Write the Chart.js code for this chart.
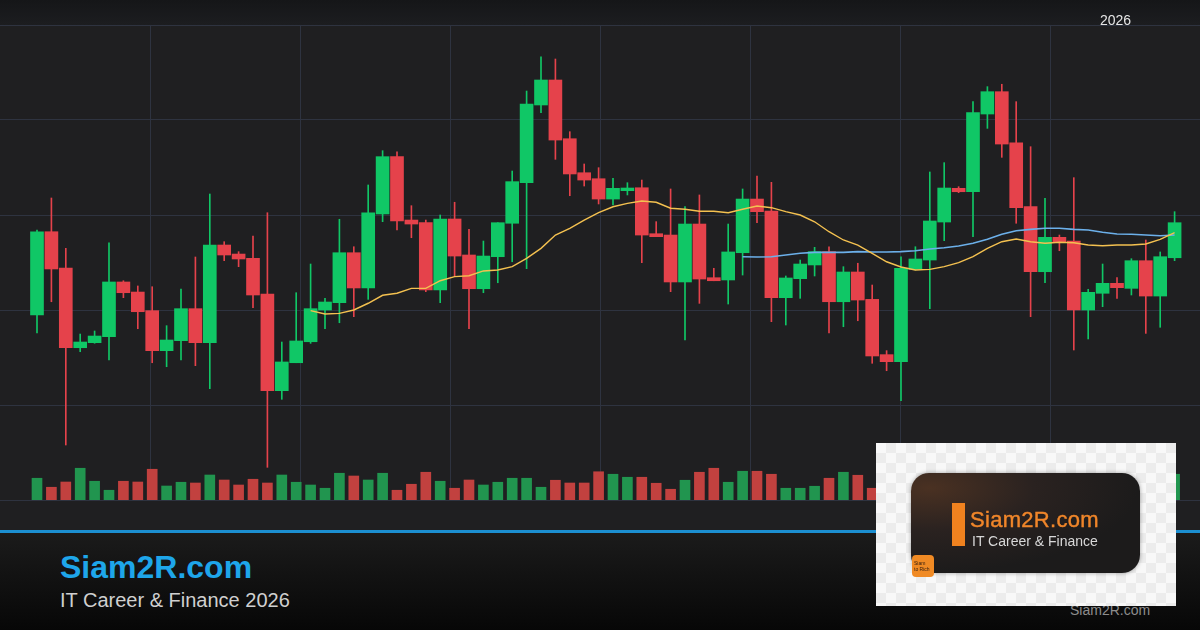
<!DOCTYPE html>
<html>
<head>
<meta charset="utf-8">
<title>Siam2R.com - IT Career & Finance 2026</title>
<script src="https://cdn.jsdelivr.net/npm/chart.js@4.4.1/dist/chart.umd.min.js"></script>
<style>
    html, body { margin: 0; padding: 0; }
    body {
        width: 1200px; height: 630px; overflow: hidden; position: relative;
        background: #1f1f21;
        font-family: Arial, "Liberation Sans", sans-serif;
    }
    #topBand { position: absolute; left: 0; top: 0; width: 1200px; height: 25px; background: linear-gradient(#151618, #1c1d20); }
    #year { position: absolute; left: 1100px; top: 13px; font-size: 14px; line-height: 14px; color: #e6e6e6; z-index: 3; }
    #chartBox { position: absolute; left: 0; top: 15px; width: 1200px; height: 495px; z-index: 1; }
    #blueLine { position: absolute; left: 0; top: 530px; width: 1200px; height: 3px; background: #1c8fd1; }
    #footer { position: absolute; left: 0; top: 533px; width: 1200px; height: 97px; background: linear-gradient(#1b1b1b, #070707); }
    #brand { position: absolute; left: 60px; top: 551px; font-size: 32px; line-height: 32px; font-weight: bold; color: #1ea6ea; }
    #sub { position: absolute; left: 60px; top: 590px; font-size: 20px; line-height: 20px; color: #d0d0d0; }
    #small { position: absolute; left: 1070px; top: 603px; font-size: 14px; line-height: 14px; color: #8d8d8d; }
    #panel {
        position: absolute; left: 876px; top: 443px; width: 300px; height: 163px; z-index: 4;
        background: repeating-conic-gradient(#ececec 0% 25%, #f8f8f8 0% 50%) 0 0 / 20px 20px;
    }
    #card {
        position: absolute; left: 35px; top: 30px; width: 229px; height: 100px; border-radius: 18px;
        background: radial-gradient(ellipse at 8% 15%, #4a3122 0%, #2a2220 35%, #1c1b1b 70%);
        box-shadow: 0 0 4px rgba(0,0,0,0.35);
    }
    #bar { position: absolute; left: 76px; top: 60px; width: 13px; height: 43px; background: #f0821f; }
    #cardTitle { position: absolute; left: 94px; top: 66px; font-size: 22px; line-height: 22px; color: #f0862a; -webkit-text-stroke: 0.4px #f0862a; letter-spacing: 0.3px; }
    #cardSub { position: absolute; left: 96px; top: 91px; font-size: 14px; line-height: 14px; color: #d8d8d8; }
    #badge {
        position: absolute; left: 36px; top: 112px; width: 22px; height: 22px; border-radius: 4px;
        background: #f08a24; color: #3a2010; font-size: 5px; line-height: 6px; padding: 5px 0 0 2px; box-sizing: border-box;
    }
</style>
</head>
<body>
<div id="topBand"></div>
<div id="year">2026</div>
<div id="chartBox"><canvas id="candleChart" width="1200" height="495"></canvas></div>
<div id="blueLine"></div>
<div id="footer"></div>
<div id="brand">Siam2R.com</div>
<div id="sub">IT Career &amp; Finance 2026</div>
<div id="small">Siam2R.com</div>
<div id="panel">
    <div id="card"></div>
    <div id="bar"></div>
    <div id="cardTitle">Siam2R.com</div>
    <div id="cardSub">IT Career &amp; Finance</div>
    <div id="badge">Siam<br>to Rich</div>
</div>

<script>
// daily OHLC
const opens = [119.47, 128.24, 124.42, 116.03, 116.56, 117.19, 122.95, 121.89, 119.93, 115.72,
    116.77, 120.14, 116.56, 126.84, 125.89, 125.44, 121.68, 111.51, 114.45, 116.66,
    120.0, 120.77, 126.03, 122.32, 130.11, 136.14, 129.47, 129.19, 122.11, 129.58,
    125.79, 122.24, 125.61, 129.13, 133.4, 141.58, 144.21, 138.03, 134.45, 133.82,
    131.68, 132.56, 132.87, 128.03, 127.89, 122.95, 129.05, 123.4, 123.16, 126.03,
    131.68, 130.42, 121.3, 123.3, 124.74, 126.14, 120.87, 124.0, 121.12, 115.3,
    114.56, 124.28, 125.26, 129.26, 132.81, 132.45, 140.63, 142.98, 137.61, 130.88,
    124.03, 127.65, 127.26, 120.0, 121.76, 122.81, 122.28, 125.19, 121.47, 125.5];
const highs = [128.4, 131.79, 126.49, 117.47, 117.79, 127.08, 123.08, 122.53, 122.45, 118.35,
    122.21, 125.58, 132.21, 127.19, 126.14, 127.79, 130.24, 116.63, 121.82, 124.84,
    121.23, 129.55, 126.66, 133.16, 136.77, 136.66, 130.98, 129.47, 130.0, 131.34,
    128.49, 127.26, 129.19, 134.63, 143.05, 146.66, 146.42, 138.77, 135.37, 134.98,
    133.86, 133.4, 133.68, 129.3, 132.74, 130.88, 132.11, 124.39, 129.05, 132.74,
    134.11, 133.44, 123.58, 125.26, 126.6, 126.66, 124.56, 124.92, 122.63, 115.72,
    125.61, 126.66, 134.53, 135.51, 132.98, 141.93, 143.51, 143.76, 141.93, 137.19,
    131.76, 127.89, 133.93, 122.18, 124.84, 123.4, 125.4, 127.37, 126.11, 130.35];
const lows = [117.6, 120.87, 105.79, 115.61, 116.5, 114.74, 121.3, 118.03, 114.45, 114.03,
    114.74, 114.14, 111.72, 125.19, 124.56, 120.24, 103.44, 110.6, 114.45, 116.49,
    118.03, 118.66, 119.3, 121.12, 129.3, 128.42, 127.61, 121.93, 120.77, 123.58,
    118.03, 121.82, 122.87, 125.08, 124.35, 140.77, 135.86, 132.03, 133.05, 131.16,
    131.05, 132.11, 124.98, 127.72, 121.93, 116.84, 120.7, 123.08, 120.63, 123.68,
    129.19, 118.77, 118.42, 121.23, 123.58, 117.6, 118.24, 118.87, 114.39, 113.61,
    110.45, 124.21, 120.14, 127.3, 132.35, 127.72, 139.12, 136.07, 129.13, 119.3,
    122.87, 126.24, 115.79, 116.95, 120.35, 121.23, 121.58, 117.54, 118.18, 125.19];
const closes = [128.24, 124.32, 116.03, 116.63, 117.26, 122.95, 121.82, 119.82, 115.72, 116.84,
    120.14, 116.56, 126.84, 125.79, 125.37, 121.58, 111.51, 114.53, 116.74, 120.14,
    120.84, 126.03, 122.32, 130.24, 136.14, 129.37, 129.05, 122.11, 129.58, 125.68,
    122.24, 125.68, 129.19, 133.51, 141.68, 144.21, 137.89, 134.32, 133.68, 131.68,
    132.81, 132.84, 127.89, 127.72, 122.95, 129.05, 123.26, 123.08, 126.11, 131.68,
    130.35, 121.3, 123.37, 124.84, 126.14, 120.87, 124.0, 121.05, 115.16, 114.56,
    124.39, 125.37, 129.37, 132.84, 132.45, 140.77, 142.98, 137.47, 130.77, 124.03,
    127.65, 127.19, 120.0, 121.86, 122.81, 122.35, 125.19, 121.47, 125.61, 129.19];
const volumes = [870, 510, 720, 1270, 750, 390, 750, 720, 1230, 560,
    710, 680, 1000, 800, 600, 830, 680, 1000, 710, 600,
    470, 1070, 960, 800, 1070, 390, 630, 1110, 750, 470,
    800, 600, 710, 870, 870, 510, 790, 680, 680, 1130,
    1030, 910, 910, 670, 430, 790, 1110, 1270, 710, 1150,
    1150, 1030, 470, 470, 550, 870, 1110, 990, 470, 620,
    1180, 540, 900, 820, 450, 1200, 760, 980, 1050, 1100,
    700, 520, 950, 610, 480, 430, 650, 820, 760, 1030];

// moving averages as drawn (yellow starts at day 19, blue at day 49)
const ma20Start = 19;
const ma20 = [119.93, 119.58, 119.65, 120.0, 120.71, 121.55, 121.76, 122.28, 122.28, 123.08,
    123.51, 123.61, 124.11, 124.21, 124.56, 125.44, 126.49, 127.89, 128.6, 129.47,
    130.26, 130.87, 131.23, 131.47, 131.34, 130.71, 130.6, 130.39, 130.39, 130.24,
    130.6, 130.95, 130.77, 130.35, 130.0, 129.29, 128.24, 127.37, 126.84, 125.97,
    125.08, 124.53, 124.21, 124.28, 124.56, 124.98, 125.61, 126.49, 127.19, 127.47,
    127.19, 127.02, 127.13, 127.08, 126.84, 126.77, 126.84, 126.84, 126.95, 127.44, 128.14];
const ma50Start = 49;
const ma50 = [125.61, 125.58, 125.61, 125.79, 125.97, 126.07, 126.07, 126.07, 126.14, 126.11,
    126.11, 126.14, 126.24, 126.42, 126.56, 126.74, 127.02, 127.44, 127.97, 128.35,
    128.49, 128.6, 128.6, 128.49, 128.42, 128.18, 128.0, 127.97, 127.89, 127.82, 127.89];

document.addEventListener("DOMContentLoaded", function() {
    let ctx = document.getElementById('candleChart').getContext('2d');
    let days = opens.map((o, i) => i);
    let up = days.map(i => closes[i] >= opens[i]);
    let candleColors = up.map(u => u ? '#10c766' : '#e5424b');
    let volColors = up.map(u => u ? '#21954f' : '#c2413f');
    let gridColor = '#2e3340';

    new Chart(ctx, {
        type: 'bar',
        data: {
            datasets: [
                {
                    type: 'line',
                    label: 'MA20',
                    data: ma20.map((v, i) => ({x: i + ma20Start, y: v})),
                    borderColor: '#f4c150',
                    borderWidth: 1.4,
                    pointRadius: 0,
                    order: 0
                },
                {
                    type: 'line',
                    label: 'MA50',
                    data: ma50.map((v, i) => ({x: i + ma50Start, y: v})),
                    borderColor: '#6cb0ea',
                    borderWidth: 1.6,
                    pointRadius: 0,
                    order: 0
                },
                {
                    label: 'Body',
                    data: days.map(i => ({x: i, y: [opens[i], closes[i]]})),
                    backgroundColor: candleColors,
                    barThickness: 13,
                    order: 1
                },
                {
                    label: 'Wick',
                    data: days.map(i => ({x: i, y: [lows[i], highs[i]]})),
                    backgroundColor: candleColors,
                    barThickness: 1,
                    order: 2
                },
                {
                    label: 'Volume',
                    data: days.map(i => ({x: i, y: volumes[i]})),
                    backgroundColor: volColors,
                    barThickness: 10,
                    yAxisID: 'yv',
                    order: 3
                }
            ]
        },
        options: {
            responsive: false,
            animation: false,
            layout: { padding: { top: 10, bottom: 10, left: 0, right: 0 } },
            plugins: { legend: { display: false }, tooltip: { enabled: false } },
            datasets: { bar: { grouped: false, borderWidth: 0 } },
            scales: {
                x: { type: 'linear', min: -37 / 14.4, max: 1163 / 14.4, offset: false, display: false },
                xg: {
                    type: 'linear', position: 'bottom', min: 0, max: 1200, offset: false,
                    ticks: { display: false, stepSize: 150 },
                    grid: {
                        drawTicks: false, offset: false,
                        color: c => (c.tick && (c.tick.value === 0 || c.tick.value === 1200)) ? 'rgba(0,0,0,0)' : gridColor
                    },
                    border: { display: false }
                },
                y: {
                    min: 100, max: 150,
                    ticks: { display: false, stepSize: 10 },
                    grid: { drawTicks: false, color: gridColor },
                    border: { display: false }
                },
                yv: { min: 0, max: 19000, display: false }
            }
        }
    });
});
</script>
</body>
</html>
